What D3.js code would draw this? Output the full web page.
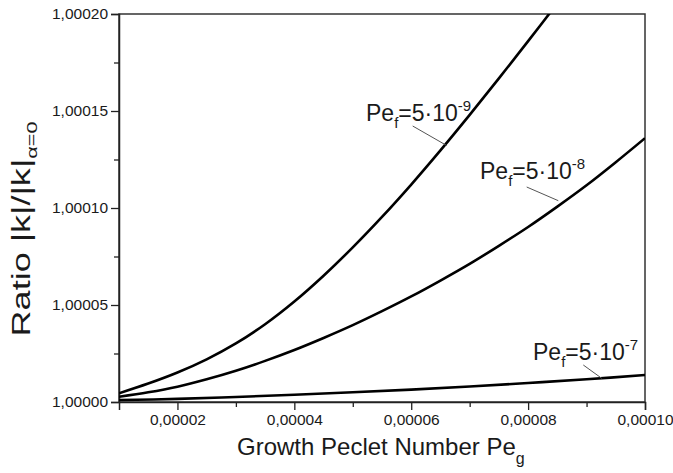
<!DOCTYPE html>
<html><head><meta charset="utf-8">
<script src="https://cdn.jsdelivr.net/npm/d3@7"></script>
<style>
body{margin:0;background:#fff;}
text,tspan{font-family:"Liberation Sans",Arial,Helvetica,sans-serif;fill:#1a1a1a;}
</style></head>
<body><svg id="c" width="673" height="473"></svg>
<script>
const xA = [1e-5,1.5e-5,2e-5,2.5e-5,3e-5,3.5e-5,4e-5,4.5e-5,5e-5,5.5e-5,6e-5,6.5e-5,7e-5,7.5e-5,8e-5,8.5e-5];
const yA = [1.0000045,1.0000095,1.0000152,1.000022,1.0000302,1.0000401,1.0000518,1.0000651,1.0000797,1.0000954,1.0001121,1.0001297,1.000148,1.0001668,1.000186,1.0002055];
const xB = [1e-5,1.5e-5,2e-5,2.5e-5,3e-5,3.5e-5,4e-5,4.5e-5,5e-5,5.5e-5,6e-5,6.5e-5,7e-5,7.5e-5,8e-5,8.5e-5,9e-5,9.5e-5,1e-4];
const yB = [1.0000027,1.000005,1.0000079,1.0000117,1.0000161,1.0000212,1.0000268,1.000033,1.0000396,1.0000468,1.0000544,1.0000626,1.0000712,1.0000805,1.0000902,1.0001007,1.0001117,1.0001236,1.000136];
const xC = [1e-5,2e-5,3e-5,4e-5,5e-5,6e-5,7e-5,8e-5,9e-5,1e-4];
const yC = [1.000001,1.0000016,1.0000026,1.0000037,1.000005,1.0000064,1.000008,1.0000098,1.0000117,1.0000139];
const xTicks = [2e-5,4e-5,6e-5,8e-5,1e-4];
const xTickLabels = ["0,00002","0,00004","0,00006","0,00008","0,00010"];
const yTicks = [1.0,1.00005,1.0001,1.00015,1.0002];
const yTickLabels = ["1,00000","1,00005","1,00010","1,00015","1,00020"];
const curveLabels = ["-9","-8","-7"];

const svg = d3.select("#c");
const L=119,R=645,T=14,B=402;
const x = d3.scaleLinear().domain([1e-5,1e-4]).range([L,R]);
const y = d3.scaleLinear().domain([1.0,1.0002]).range([B,T]);

svg.append("defs").append("clipPath").attr("id","clip")
  .append("rect").attr("x",L).attr("y",T).attr("width",R-L).attr("height",B-T);

svg.append("rect").attr("x",L).attr("y",T).attr("width",R-L).attr("height",B-T)
  .attr("fill","none").attr("stroke","#333").attr("stroke-width",1.5);

const xMinor = d3.range(3e-5,1e-4,2e-5);
const gx = svg.append("g").attr("transform",`translate(0,${B})`);
gx.call(d3.axisBottom(x).tickValues(xMinor).tickSize(5).tickFormat(""));
gx.call(g=>g.select(".domain").remove());
const gx2 = svg.append("g").attr("transform",`translate(0,${B})`);
gx2.call(d3.axisBottom(x).tickValues(xTicks).tickSize(8).tickPadding(4)
  .tickFormat((d,i)=>xTickLabels[i]));
gx2.select(".domain").attr("stroke","#222").attr("stroke-width",1.5);
gx2.selectAll("text").attr("font-size",15.5).attr("fill","#1a1a1a");

const yMinor = [1.000025,1.000075,1.000125,1.000175];
const gy = svg.append("g").attr("transform",`translate(${L},0)`);
gy.call(d3.axisLeft(y).tickValues(yMinor).tickSize(5).tickFormat(""));
gy.call(g=>g.select(".domain").remove());
const gy2 = svg.append("g").attr("transform",`translate(${L},0)`);
gy2.call(d3.axisLeft(y).tickValues(yTicks).tickSize(8).tickPadding(3)
  .tickFormat((d,i)=>yTickLabels[i]));
gy2.select(".domain").attr("stroke","#222").attr("stroke-width",1.5);
gy2.selectAll("text").attr("font-size",15.5).attr("fill","#1a1a1a");
svg.selectAll(".tick line").attr("stroke","#222").attr("stroke-width",1.3);

const line = d3.line().x(d=>x(d[0])).y(d=>y(d[1])).curve(d3.curveCatmullRom);
const series = [[xA,yA],[xB,yB],[xC,yC]];
svg.append("g").attr("clip-path","url(#clip)").selectAll("path").data(series).join("path")
  .attr("d",s=>line(s[0].map((v,i)=>[v,s[1][i]])))
  .attr("fill","none").attr("stroke","#000").attr("stroke-width",2.6);

const labels = [
  {tx:366, ty:121, l1:[412.7,126], l2:[446.7,145.5]},
  {tx:480, ty:179, l1:[526.7,187], l2:[558.3,200.7]},
  {tx:533, ty:360, l1:[583.3,365], l2:[601.7,378.3]}
];
labels.forEach((o,i)=>{
  const t = svg.append("text").attr("x",o.tx).attr("y",o.ty).attr("font-size",23);
  t.append("tspan").text("Pe");
  t.append("tspan").attr("font-size",15).attr("dy",7).text("f");
  t.append("tspan").attr("dy",-7).text("=5·10");
  t.append("tspan").attr("font-size",15).attr("dy",-10).text(curveLabels[i]);
  svg.append("line").attr("x1",o.l1[0]).attr("y1",o.l1[1]).attr("x2",o.l2[0]).attr("y2",o.l2[1])
    .attr("stroke","#555").attr("stroke-width",1);
});

const xt = svg.append("text").attr("x",237).attr("y",455).attr("font-size",24);
xt.append("tspan").text("Growth Peclet Number Pe");
xt.append("tspan").attr("font-size",16).attr("dy",9).text("g");

const yt = svg.append("text").attr("text-anchor","middle").attr("font-size",25);
yt.append("tspan").text("Ratio |k|/|k|");
yt.append("tspan").attr("font-size",15).attr("dy",7).text("α=0");
const len = yt.node().getComputedTextLength();
const sx = 215/len;
yt.attr("transform",`translate(30,229) rotate(-90) scale(${sx},1)`);
</script></body></html>
